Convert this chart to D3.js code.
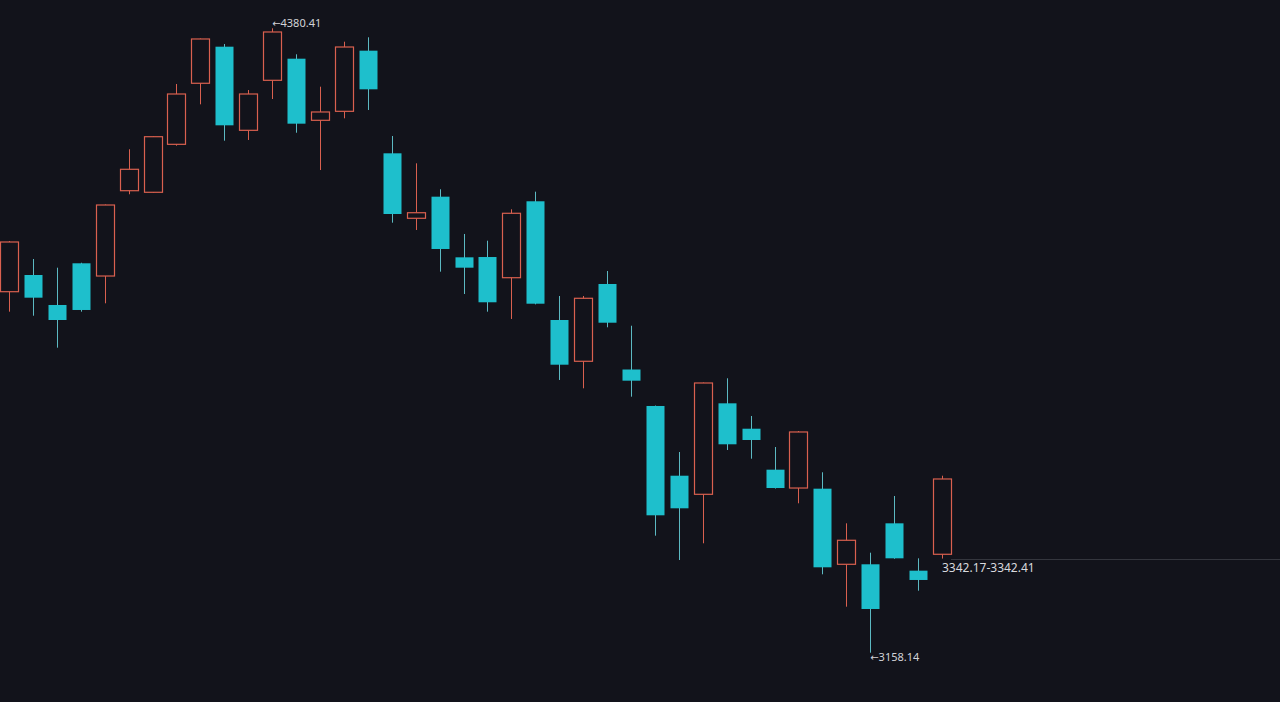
<!DOCTYPE html>
<html>
<head>
<meta charset="utf-8">
<script src="https://cdn.jsdelivr.net/npm/d3@7/dist/d3.min.js"></script>
<style>
  html, body { margin: 0; padding: 0; background: #12131b; overflow: hidden; }
  svg { display: block; }
</style>
</head>
<body>
<svg id="chart" width="1280" height="702"></svg>
<script>
// ---- data ----
const categories = d3.range(1, 41).map(i => "K" + i);
const openValues  = [3864.8,3897.5,3838.8,3920.4,3895.5,4062.5,4059.4,4153.3,4272.8,4344.4,
                     4180.7,4278.6,4320.9,4200.3,4217.9,4336.6,4135.7,4008.5,4050.8,3932.1,
                     3932.7,3892.2,4041.8,3809.4,3728.6,3879.9,3712.5,3641.1,3504.6,3468.2,
                     3646.3,3596.6,3516.4,3480.5,3479.2,3331.2,3331.2,3411.4,3318.7,3350.8];
const highValues  = [3964.0,3928.8,3911.8,3921.5,4035.5,4143.6,4169.0,4271.4,4360.5,4349.7,
                     4259.6,4380.41,4329.5,4266.1,4354.2,4362.8,4169.6,4116.1,4065.3,3977.8,
                     3964.6,4026.1,4060.6,3856.4,3856.4,3905.3,3798.2,3642.0,3551.0,3687.0,
                     3695.3,3621.5,3560.8,3592.1,3511.3,3411.4,3353.9,3464.9,3342.9,3504.6];
const lowValues   = [3825.7,3817.8,3755.2,3825.7,3842.1,4055.5,4058.5,4150.6,4231.6,4160.4,
                     4161.8,4242.0,4176.0,4103.0,4204.2,4220.5,3999.9,3985.6,3904.0,3860.3,
                     3825.7,3811.4,3840.0,3692.0,3675.7,3795.1,3659.3,3387.2,3339.6,3372.3,
                     3554.9,3537.9,3479.5,3450.6,3311.6,3248.2,3158.14,3342.0,3279.5,3342.41];
const closeValues = [3962.1,3853.1,3809.4,3829.0,4034.5,4104.4,4168.2,4251.8,4359.5,4190.5,
                     4251.8,4373.2,4193.7,4216.6,4343.8,4261.0,4016.9,4019.4,3948.4,3911.8,
                     3844.1,4018.3,3841.3,3721.9,3851.9,3804.1,3690.6,3427.1,3440.8,3686.1,
                     3566.1,3574.5,3480.5,3590.2,3325.3,3378.2,3243.7,3342.9,3300.5,3498.2];
const highLabel = "4380.41";
const lowLabel = "3158.14";
const lastLabel = "3342.17-3342.41";
const lastLevel = 3342.41;

const data = categories.map((c, i) => ({
  c, o: openValues[i], h: highValues[i], l: lowValues[i], cl: closeValues[i]
}));

// ---- scales ----
const svg = d3.select("#chart");
const W = 1280, H = 702;
const bg = "#12131b";
const upColor = "#d9604f";
const downColor = "#1ebfcc";
const downWick = "#5cb9c2";

svg.append("rect").attr("width", W).attr("height", H).attr("fill", bg);

const x = d3.scalePoint().domain(categories).range([9, 942]);
const y = d3.scaleLinear().domain([3158.14, 4380.41]).range([652.7, 28.3]);
const bodyW = 18;

// current level line
svg.append("line")
  .attr("x1", x(categories[categories.length - 1]) + 9)
  .attr("x2", W)
  .attr("y1", Math.round(y(lastLevel)) + 0.5)
  .attr("y2", Math.round(y(lastLevel)) + 0.5)
  .attr("stroke", "#34363e").attr("stroke-width", 1);

const g = svg.append("g");
const candle = g.selectAll("g.c").data(data).join("g").attr("class", "c");

candle.append("line")
  .attr("x1", d => Math.round(x(d.c)) + 0.5)
  .attr("x2", d => Math.round(x(d.c)) + 0.5)
  .attr("y1", d => y(d.h))
  .attr("y2", d => y(d.l))
  .attr("stroke", d => d.cl >= d.o ? upColor : downWick)
  .attr("stroke-width", 1);

candle.append("rect")
  .attr("x", d => Math.round(x(d.c) - bodyW / 2) + 0.5)
  .attr("width", bodyW)
  .attr("y", d => y(Math.max(d.o, d.cl)))
  .attr("height", d => Math.max(1, y(Math.min(d.o, d.cl)) - y(Math.max(d.o, d.cl))))
  .attr("fill", d => d.cl >= d.o ? bg : downColor)
  .attr("stroke", d => d.cl >= d.o ? upColor : "none")
  .attr("stroke-width", 1.2);

// labels
const font = "'Noto Sans', Roboto, sans-serif";
const hiIdx = highValues.indexOf(d3.max(highValues));
const loIdx = lowValues.indexOf(d3.min(lowValues));

function arrowLabel(px, py, txt) {
  const t = svg.append("text")
    .attr("x", px).attr("y", py)
    .attr("fill", "#d2d3d8").attr("font-family", font).attr("font-size", 11);
  t.append("tspan").attr("font-family", "'DejaVu Sans', sans-serif").attr("font-size", 10).text("←");
  t.append("tspan").text(txt);
}
arrowLabel(x(categories[hiIdx]), y(highValues[hiIdx]) - 1, highLabel);
arrowLabel(x(categories[loIdx]), y(lowValues[loIdx]) + 8, lowLabel);

svg.append("text")
  .attr("x", x(categories[categories.length - 1])).attr("y", y(lastLevel) + 13)
  .attr("fill", "#d8d9de").attr("font-family", font).attr("font-size", 12)
  .text(lastLabel);
</script>
</body>
</html>
